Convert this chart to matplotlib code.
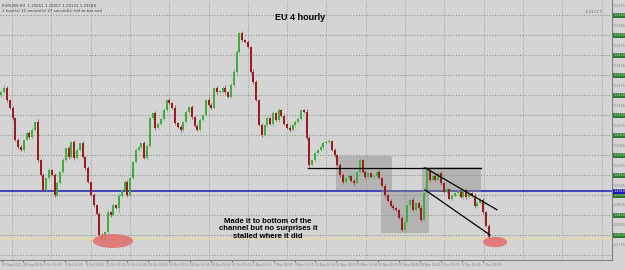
import numpy as np
import matplotlib
matplotlib.use("Agg")
import matplotlib.pyplot as plt
from matplotlib.patches import Rectangle, Ellipse

# ---------------- data ----------------
closes = [
    1.3158, 1.3168, 1.3138, 1.3118, 1.3093, 1.3038, 1.3020, 1.3013, 1.3038, 1.3055,
    1.3045, 1.3063, 1.3083, 1.2988, 1.2950, 1.2913, 1.2943, 1.2963, 1.2950, 1.2900,
    1.2930, 1.2958, 1.2988, 1.3018, 1.2995, 1.3033, 1.2993, 1.3013, 1.3030, 1.2995,
    1.2968, 1.2933, 1.2900, 1.2875, 1.2853, 1.2800, 1.2788, 1.2808, 1.2858, 1.2850,
    1.2875, 1.2868, 1.2898, 1.2913, 1.2933, 1.2900, 1.2943, 1.2983, 1.3013, 1.3020,
    1.3030, 1.2993, 1.3023, 1.3093, 1.3105, 1.3068, 1.3078, 1.3090, 1.3113, 1.3138,
    1.3130, 1.3118, 1.3080, 1.3070, 1.3063, 1.3083, 1.3108, 1.3120, 1.3095, 1.3073,
    1.3063, 1.3088, 1.3100, 1.3138, 1.3125, 1.3118, 1.3168, 1.3158, 1.3158, 1.3168,
    1.3158, 1.3145, 1.3175, 1.3208, 1.3258, 1.3305, 1.3288, 1.3283, 1.3270, 1.3208,
    1.3183, 1.3138, 1.3075, 1.3050, 1.3075, 1.3093, 1.3078, 1.3105, 1.3088, 1.3113,
    1.3098, 1.3078, 1.3068, 1.3063, 1.3075, 1.3083, 1.3090, 1.3113, 1.3108, 1.3043,
    1.2975, 1.2988, 1.3005, 1.3013, 1.3020, 1.3030, 1.3033, 1.3035, 1.3013, 1.3000,
    1.2975, 1.2950, 1.2933, 1.2943, 1.2948, 1.2935, 1.2930, 1.2958, 1.2988, 1.2958,
    1.2945, 1.2955, 1.2945, 1.2948, 1.2958, 1.2943, 1.2923, 1.2900, 1.2885, 1.2873,
    1.2868, 1.2863, 1.2843, 1.2813, 1.2833, 1.2875, 1.2888, 1.2863, 1.2880, 1.2868,
    1.2838, 1.2905, 1.2963, 1.2938, 1.2948, 1.2938, 1.2955, 1.2930, 1.2908, 1.2915,
    1.2890, 1.2898, 1.2905, 1.2908, 1.2895, 1.2913, 1.2895, 1.2905, 1.2898, 1.2873,
    1.2880, 1.2888, 1.2858, 1.2823, 1.2795,
]
first_open = 1.3150

# wick lengths in pips (0.0001) above / below the candle body
up_wick = [
    3, 6, 4, 2, 5, 3, 4, 6, 2, 3, 5, 4, 3, 6, 2, 4, 3, 5, 2, 4, 6, 3, 4, 2, 5,
    3, 4, 5, 2, 6, 3, 4, 2, 5, 3, 4, 6, 3, 5, 2, 4, 3, 6, 2, 4, 5, 3, 2, 4, 6,
    3, 5, 4, 2, 3, 6, 4, 3, 5, 2, 4, 3, 6, 2, 5, 3, 4, 2, 6, 3, 5, 4, 3, 2, 6,
    4, 3, 5, 2, 4, 6, 3, 4, 8, 5, 3, 4, 2, 5, 3, 6, 4, 3, 5, 2, 4, 3, 6, 2, 5,
    3, 4, 2, 6, 3, 5, 4, 3, 2, 6, 4, 3, 5, 2, 4, 6, 3, 4, 2, 5, 3, 4, 5, 2, 6,
    3, 4, 2, 5, 3, 4, 6, 3, 5, 2, 4, 3, 6, 2, 4, 5, 3, 2, 4, 6, 3, 5, 4, 2, 3,
    6, 4, 3, 5, 2, 4, 3, 6, 2, 5, 3, 4, 2, 6, 3, 5, 4, 3, 2, 6, 4, 3, 5, 2, 4,
]
dn_wick = [
    4, 3, 5, 2, 6, 3, 4, 2, 5, 3, 4, 6, 3, 5, 2, 4, 3, 6, 2, 4, 5, 3, 2, 4, 6,
    3, 5, 4, 2, 3, 6, 4, 3, 5, 2, 4, 8, 6, 2, 5, 3, 4, 12, 6, 3, 5, 4, 3, 2, 6,
    4, 3, 5, 2, 4, 6, 3, 4, 2, 5, 3, 4, 5, 2, 6, 3, 4, 2, 5, 3, 4, 6, 3, 5, 2,
    4, 3, 6, 2, 4, 5, 3, 2, 4, 6, 3, 5, 4, 2, 3, 6, 4, 3, 5, 2, 4, 3, 6, 2, 5,
    3, 4, 2, 6, 3, 5, 4, 3, 2, 6, 4, 3, 5, 2, 4, 6, 3, 4, 2, 5, 3, 4, 5, 2, 6,
    3, 4, 2, 5, 3, 4, 6, 3, 5, 2, 4, 3, 6, 2, 4, 5, 3, 2, 4, 6, 3, 5, 4, 2, 3,
    6, 4, 3, 5, 2, 4, 3, 6, 2, 5, 3, 4, 2, 6, 3, 5, 4, 3, 2, 6, 4, 3, 5, 2, 4,
]

time_labels = [
    "25 Sep 2012", "28 Sep 04:00", "2 Oct 12:00", "4 Oct 20:00", "9 Oct 04:00",
    "11 Oct 12:00", "15 Oct 20:00", "18 Oct 04:00", "22 Oct 12:00", "24 Oct 20:00",
    "29 Oct 04:00", "31 Oct 12:00", "2 Nov 20:00", "7 Nov 04:00", "9 Nov 12:00",
    "13 Nov 20:00", "16 Nov 04:00", "20 Nov 12:00", "22 Nov 20:00", "27 Nov 04:00",
    "29 Nov 12:00", "3 Dec 20:00", "5 Dec 04:00", "7 Dec 12:00",
]

support_level = 1.2910      # blue line
low_level = 1.27925         # faint yellow line
range_top = 1.2968          # black horizontal line

# ---------------- figure ----------------
W, H = 625, 270
fig = plt.figure(figsize=(W / 100, H / 100), dpi=100)
fig.patch.set_facecolor("#d4d4d4")
ax = fig.add_axes([0, 10 / H, 612 / W, 260 / H])
ax.set_facecolor("#d4d4d4")

n = len(closes)
c = np.array(closes)
o = np.concatenate([[first_open], c[:-1]])
hi = np.maximum(o, c) + np.array(up_wick) * 1e-4
lo = np.minimum(o, c) - np.array(dn_wick) * 1e-4
x = np.arange(n)

px_per_bar = 2.8
ax.set_xlim(-0.5, 612 / px_per_bar - 0.5)
ytop, ybot = 1.33875, 1.27375
ax.set_ylim(ybot, ytop)

# grid
for yv in np.arange(1.2750, 1.3360, 0.005):
    ax.axhline(yv, color="#7f9a7f", lw=0.8, ls=(0, (1, 1.5)), zorder=0)
for xv in np.arange(12 / px_per_bar - 0.5, 218, 39.3 / px_per_bar):
    ax.axvline(xv, color="#a0a0a0", lw=0.7, ls=(0, (1, 1.5)), zorder=0)

# reference lines
ax.axhline(low_level, color="#e6dca0", lw=1.0, zorder=1)
ax.axhline(support_level, color="#1c1cb0", lw=1.1, zorder=1)


def px2bar(p):
    return p / px_per_bar - 0.5


# grey boxes
boxes = [
    (336, 392, 1.2913, 1.2998),
    (381, 429, 1.2805, 1.2913),
    (422, 481, 1.2908, 1.2970),
]
for x0, x1, p0, p1 in boxes:
    ax.add_patch(Rectangle((px2bar(x0), p0), px2bar(x1) - px2bar(x0), p1 - p0,
                           facecolor="#8c8c8c", alpha=0.45, edgecolor="none", zorder=1))

# candles
up = c >= o
ax.vlines(x[up], lo[up], hi[up], color="#6cbf6c", lw=0.6, zorder=2)
ax.vlines(x[~up], lo[~up], hi[~up], color="#b04a4a", lw=0.6, zorder=2)
body_h = np.maximum(np.abs(c - o), 0.00012)
ax.bar(x[up], body_h[up], bottom=np.minimum(o, c)[up], width=0.7,
       color="#3fae3f", edgecolor="none", zorder=3)
ax.bar(x[~up], body_h[~up], bottom=np.minimum(o, c)[~up], width=0.7,
       color="#9a1c1c", edgecolor="none", zorder=3)

# black lines (range top and channel)
ax.plot([px2bar(308), px2bar(481)], [range_top, range_top], color="black", lw=0.9, zorder=4)
ax.plot([px2bar(425), px2bar(497)], [1.2968, 1.2863], color="black", lw=0.9, zorder=4)
ax.plot([px2bar(425), px2bar(490)], [1.2913, 1.2800], color="black", lw=0.9, zorder=4)

# red ellipses
ax.add_patch(Ellipse((px2bar(113), 1.2785), 40 / px_per_bar, 0.0035,
                     facecolor="#e07272", edgecolor="none", alpha=0.9, zorder=5))
ax.add_patch(Ellipse((px2bar(495), 1.27825), 24 / px_per_bar, 0.0026,
                     facecolor="#e07272", edgecolor="none", alpha=0.9, zorder=5))

# texts
ax.text(px2bar(300), 1.3345, "EU 4 hourly", ha="center", va="center",
        fontsize=6.5, fontweight="bold", family="Liberation Sans", zorder=6)
ax.text(px2bar(268), 1.2815,
        "Made it to bottom of the\nchannel but no surprises it\nstalled where it did",
        ha="center", va="center", fontsize=5.6, fontweight="bold",
        family="Liberation Sans", linespacing=1.15, zorder=6)
ax.text(0.004, 0.985,
        "EURUSD,H4  1.29251 1.29257 1.29121 1.29184\n1 hour(s) 11 minute(s) 27 second(s) left to bar end",
        transform=ax.transAxes, ha="left", va="top", fontsize=2.8,
        color="#404040", linespacing=1.3, zorder=6)
ax.text(0.985, 0.955, "1.31117", transform=ax.transAxes, ha="right", va="center",
        fontsize=3.2, color="#707070", zorder=6)

# axes styling
for s in ["top", "left"]:
    ax.spines[s].set_visible(False)
ax.spines["right"].set_color("#808080")
ax.spines["bottom"].set_color("#808080")
ax.spines["right"].set_linewidth(0.8)
ax.spines["bottom"].set_linewidth(0.8)

ax.yaxis.tick_right()
yt = np.arange(1.2775, 1.3385, 0.005)
ax.set_yticks(yt)
ax.set_yticklabels([f"{v:.4f}" for v in yt])
ax.tick_params(axis="y", labelsize=2.4, colors="#808080", length=1.0, pad=0.5)

tick_pos = [px2bar(2 + 20.9 * k) for k in range(len(time_labels))]
ax.set_xticks(tick_pos)
ax.set_xticklabels(time_labels, ha="left")
ax.tick_params(axis="x", labelsize=2.2, colors="#7a7a7a", length=1.5, pad=1)

# green price boxes on right axis at grid levels
for yv in np.arange(1.2800, 1.3360, 0.005):
    ax.text(1.002, yv, f"{yv:.4f}", transform=ax.get_yaxis_transform(), ha="left",
            va="center", fontsize=2.4, color="#c8e6c8",
            bbox=dict(boxstyle="square,pad=0.15", fc="#2c7a2c", ec="none"), zorder=7,
            clip_on=False)
ax.text(1.002, support_level, f"{support_level:.4f}", transform=ax.get_yaxis_transform(),
        ha="left", va="center", fontsize=2.4, color="white",
        bbox=dict(boxstyle="square,pad=0.15", fc="#1c1cb0", ec="none"), zorder=8,
        clip_on=False)

fig.savefig("out.png", dpi=100, facecolor=fig.get_facecolor())
